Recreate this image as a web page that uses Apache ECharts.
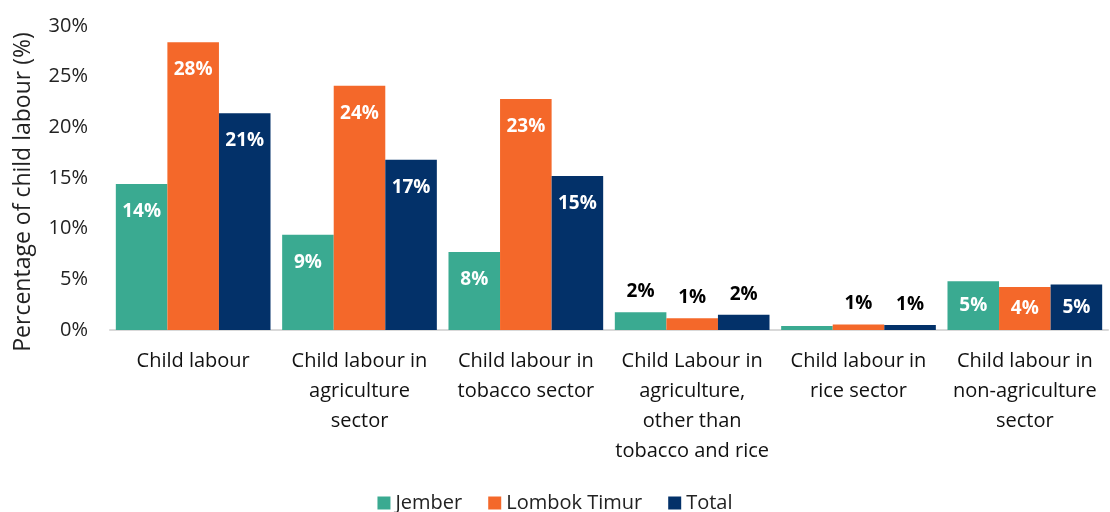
<!DOCTYPE html>
<html><head><meta charset="utf-8">
<script src="https://cdn.jsdelivr.net/npm/echarts@6/dist/echarts.min.js"></script>
<style>html,body{margin:0;padding:0;background:#fff}#c{width:1110px;height:512px}</style>
</head><body><div id="c"></div>
<script>
var categories = [
  "Child labour",
  "Child labour in\nagriculture\nsector",
  "Child labour in\ntobacco sector",
  "Child Labour in\nagriculture,\nother than\ntobacco and rice",
  "Child labour in\nrice sector",
  "Child labour in\nnon-agriculture\nsector"
];
var jember = [14.4, 9.4, 7.7, 1.75, 0.4, 4.8];
var lombokTimur = [28.4, 24.1, 22.8, 1.15, 0.55, 4.25];
var total = [21.4, 16.8, 15.2, 1.5, 0.5, 4.5];
var jemberLabelShown = [true, true, true, true, false, true];
var yTicks = [0, 5, 10, 15, 20, 25, 30];

var FONT = "'Open Sans', 'Noto Sans', sans-serif";

function mk(vals, shown) {
  return vals.map(function (v, i) {
    var show = shown ? shown[i] : true;
    var lab;
    if (v >= 6) lab = {position: 'insideTop', distance: 18, color: '#fff'};
    else if (v >= 3) lab = {position: 'inside', color: '#fff'};
    else lab = {position: 'top', distance: 11, color: '#000'};
    lab.show = show;
    return {value: v, label: lab};
  });
}

var labelBase = {
  show: true,
  fontFamily: FONT,
  fontWeight: 'bold',
  fontSize: 19,
  formatter: function (p) { return Math.round(p.value) + '%'; }
};

var chart = echarts.init(document.getElementById('c'));
chart.setOption({
  animation: false,
  color: ['#3AAA91', '#F4682A', '#033169'],
  grid: {left: 110, right: 2, top: 26, bottom: 182, containLabel: false},
  legend: {
    top: 488, left: 'center',
    itemWidth: 13, itemHeight: 13, itemGap: 26,
    icon: 'rect',
    textStyle: {fontFamily: FONT, fontSize: 20, color: '#222'},
    data: ['Jember', 'Lombok Timur', 'Total']
  },
  xAxis: {
    type: 'category',
    data: categories,
    axisLine: {lineStyle: {color: '#d9d9d9', width: 2}},
    axisTick: {show: false},
    axisLabel: {interval: 0, fontFamily: FONT, fontSize: 20, color: '#111', lineHeight: 30, margin: 16}
  },
  yAxis: {
    type: 'value', min: 0, max: 30, interval: 5,
    name: 'Percentage of child labour (%)',
    nameLocation: 'middle', nameGap: 75, nameRotate: 90,
    nameTextStyle: {fontFamily: FONT, fontSize: 23, color: '#222', padding: [0, 28, 0, 0]},
    splitLine: {show: false},
    axisLine: {show: false},
    axisTick: {show: false},
    axisLabel: {fontFamily: FONT, fontSize: 20, color: '#222', margin: 22,
      formatter: function (v) { return yTicks.indexOf(v) >= 0 ? v + '%' : ''; }}
  },
  series: [
    {name: 'Jember', type: 'bar', barGap: '0%', barCategoryGap: '7%', label: labelBase, data: mk(jember, jemberLabelShown)},
    {name: 'Lombok Timur', type: 'bar', barGap: '0%', barCategoryGap: '7%', label: labelBase, data: mk(lombokTimur)},
    {name: 'Total', type: 'bar', barGap: '0%', barCategoryGap: '7%', label: labelBase, data: mk(total)}
  ]
});
</script></body></html>
